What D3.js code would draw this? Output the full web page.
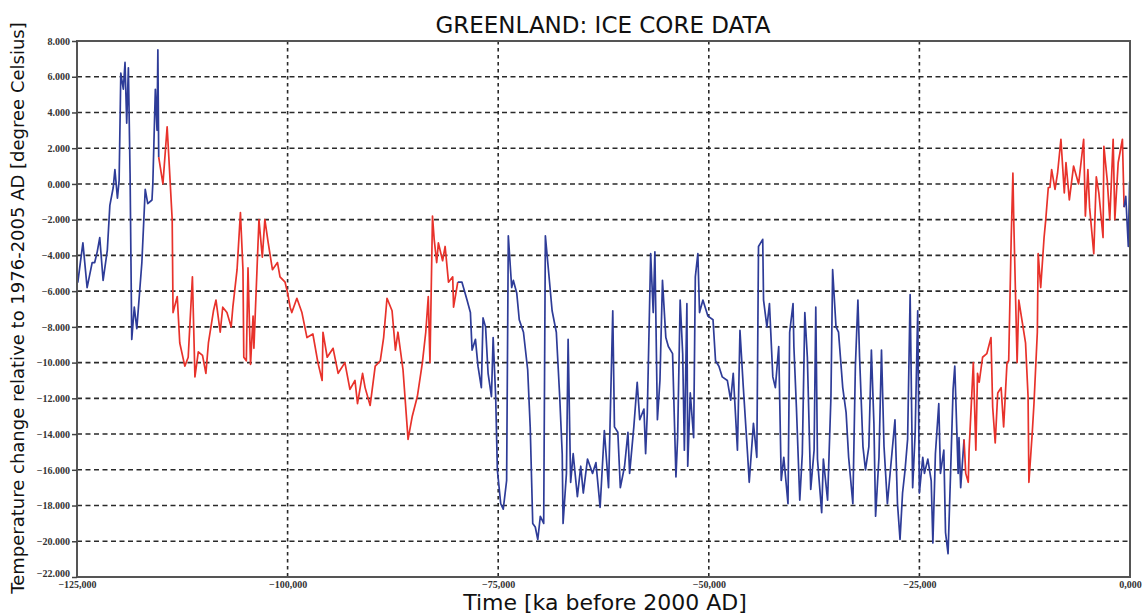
<!DOCTYPE html>
<html>
<head>
<meta charset="utf-8">
<script src="https://cdn.jsdelivr.net/npm/d3@7"></script>
<style>
  html, body { margin: 0; padding: 0; background: #ffffff; }
  svg { display: block; }
</style>
</head>
<body>
<svg id="chart" width="1146" height="614"></svg>
<script>
// Time in ka relative to 2000 AD
const timeKa = [
  -125.0,-124.9,-124.3,-123.8,-123.2,-122.9,-122.6,-122.3,-121.9,-121.4,-121.1,-120.7,-120.5,-120.2,-120.0,
  -119.8,-119.5,-119.3,-119.1,-118.9,-118.7,-118.5,-118.2,-117.9,-117.3,-116.9,-116.6,-116.1,-116.0,-115.7,
  -115.5,-115.4,-115.3,
  -114.8,-114.3,-114.1,-113.7,-113.6,-113.1,-112.8,-112.2,-111.8,-111.3,-111.0,-110.6,-110.1,-109.7,-109.4,
  -108.8,-108.5,-108.0,-107.7,-107.2,-106.7,-106.5,-106.0,-105.6,-105.3,-105.2,-104.9,-104.7,-104.4,-104.1,
  -104.0,-103.6,-103.4,-103.0,-102.7,-102.3,-101.8,-101.2,-100.9,-100.3,-100.0,-99.7,-99.5,-98.9,-98.3,
  -97.7,-97.0,-96.4,-95.9,-95.8,-95.3,-94.6,-94.0,-93.2,-92.6,-92.0,-91.7,-91.1,-90.8,-90.2,-89.6,-89.0,
  -88.6,-88.2,-87.6,-87.2,-86.9,-86.3,-85.7,-85.2,-84.6,-84.0,-83.6,-83.3,-83.1,-82.8,-82.6,-82.3,-82.1,
  -81.6,-81.3,-80.9,-80.4,-80.3,-79.8,
  -79.3,-78.7,-78.3,-78.1,-77.7,-77.4,-77.0,-76.8,-76.5,-76.2,-75.8,-75.6,-75.3,-75.1,-74.7,-74.4,-74.0,
  -73.8,-73.4,-73.2,-72.8,-72.5,-72.0,-71.5,-71.2,-70.9,-70.6,-70.3,-70.0,-69.6,-69.4,-69.0,-68.6,-68.1,
  -67.7,-67.4,-67.3,-66.9,-66.7,-66.4,-66.1,-65.6,-65.2,-64.9,-64.4,-63.8,-63.4,-62.9,-62.4,-61.9,-61.4,
  -61.2,-60.8,-60.5,-60.0,-59.6,-59.4,-58.9,-58.5,-58.2,-57.7,-57.5,-57.3,-56.9,-56.6,-56.4,-56.1,-55.8,
  -55.5,-55.1,-54.8,-54.3,-53.9,-53.7,-53.4,-53.1,-52.9,-52.6,-52.5,-52.2,-51.8,-51.6,-51.3,-51.1,-50.7,
  -50.1,-49.5,-49.2,-48.8,-48.4,-47.8,-47.4,-47.1,-46.6,-46.3,-45.9,-45.4,-45.2,-44.7,-44.3,-44.1,-43.6,
  -43.5,-43.1,-42.8,-42.4,-42.1,-41.7,-41.4,-41.1,-40.6,-40.4,-40.0,-39.9,-39.6,-39.2,-38.9,-38.6,-38.3,
  -37.9,-37.5,-37.3,-37.1,-36.6,-36.4,-35.9,-35.5,-35.3,-34.9,-34.6,-34.1,-33.7,-33.4,-32.9,-32.6,-32.3,
  -32.1,-31.7,-31.4,-31.0,-30.7,-30.4,-30.2,-29.8,-29.5,-29.2,-28.8,-28.4,-27.9,-27.6,-27.3,-27.0,-26.7,
  -26.4,-26.1,-25.8,-25.5,-25.2,-25.0,-24.6,-24.4,-24.0,-23.6,-23.4,-23.1,-22.7,-22.5,-22.1,-21.9,-21.6,
  -21.3,-21.0,-20.8,-20.4,-20.3,-20.1,-19.7,
  -19.5,-19.2,-19.1,-18.6,-18.3,-18.1,-17.9,-17.5,-17.0,-16.5,-16.3,-16.0,-15.7,-15.3,-15.0,-14.6,-14.4,
  -14.1,-13.9,-13.8,-13.4,-13.2,-12.7,-12.4,-12.1,-12.0,-11.6,-11.4,-11.0,-10.9,-10.6,-10.2,-10.0,-9.7,
  -9.5,-9.3,-8.9,-8.6,-8.2,-7.8,-7.6,-7.2,-6.7,-6.1,-5.5,-5.3,-5.0,-4.8,-4.3,-4.0,-3.7,-3.2,-3.1,-2.7,
  -2.4,-2.0,-1.8,-1.4,-0.9,-0.7,
  -0.5,-0.2,-0.05,0.0
];

// Temperature change relative to 1976-2005 AD, degree Celsius
const tempC = [
  -5.1,-5.5,-3.3,-5.8,-4.4,-4.4,-3.8,-3.0,-5.4,-3.7,-1.2,-0.2,0.8,-0.8,0.2,
  6.2,5.3,6.8,3.4,6.5,0.6,-8.7,-6.9,-8.1,-4.4,-0.3,-1.1,-0.9,0.0,5.3,
  3.0,7.5,1.5,
  0.0,3.2,1.5,-2.0,-7.2,-6.3,-8.9,-10.2,-9.7,-5.2,-10.8,-9.4,-9.6,-10.6,-8.9,
  -7.1,-6.5,-8.3,-6.9,-7.2,-8.0,-6.9,-4.8,-1.6,-4.8,-9.7,-9.9,-4.7,-10.1,-7.4,
  -9.2,-4.4,-2.0,-4.1,-2.0,-3.3,-4.8,-4.4,-5.2,-5.5,-6.1,-6.9,-7.2,-6.4,-7.2,
  -8.6,-8.4,-10.0,-11.0,-8.3,-9.7,-9.2,-10.6,-10.0,-11.5,-11.0,-12.3,-10.6,-11.4,-12.4,-10.2,-9.9,
  -8.6,-6.4,-7.1,-9.3,-8.3,-10.4,-14.3,-13.0,-11.9,-10.0,-8.3,-6.3,-10.0,-1.8,-3.1,-4.4,-3.3,
  -4.3,-3.5,-5.5,-5.2,-6.9,-5.5,
  -5.5,-6.5,-7.2,-9.3,-8.7,-10.2,-11.4,-7.5,-8.0,-10.6,-11.9,-8.6,-11.9,-16.0,-17.9,-18.2,-16.6,
  -2.9,-5.8,-5.4,-6.1,-7.6,-8.3,-10.4,-13.6,-19.0,-19.2,-19.9,-18.6,-19.0,-2.9,-5.0,-7.1,-8.3,
  -11.9,-15.1,-19.0,-16.2,-8.7,-16.7,-15.1,-17.5,-15.8,-17.3,-15.4,-16.2,-15.6,-18.1,-13.8,-17.0,-7.1,
  -13.6,-13.9,-17.0,-15.8,-13.9,-16.2,-13.6,-11.1,-13.2,-12.6,-15.1,-12.8,-3.9,-7.2,-3.8,-13.2,-11.0,
  -5.4,-8.6,-9.1,-9.5,-16.4,-14.2,-6.5,-9.5,-14.9,-6.7,-15.8,-11.7,-14.2,-5.2,-3.9,-7.2,-6.5,
  -7.4,-7.6,-9.9,-10.2,-10.8,-11.0,-12.1,-10.6,-14.9,-8.2,-11.4,-15.1,-16.7,-13.4,-15.3,-3.5,-3.1,
  -6.5,-8.0,-6.7,-10.8,-11.4,-9.1,-16.6,-15.3,-17.9,-8.3,-6.7,-9.1,-12.5,-17.7,-15.1,-7.2,-9.7,
  -17.1,-14.9,-6.9,-15.4,-18.4,-15.4,-17.7,-11.9,-4.8,-8.0,-8.3,-11.4,-12.8,-15.3,-17.9,-10.2,-6.5,
  -9.7,-14.7,-16.0,-14.7,-9.3,-13.4,-18.6,-15.3,-9.3,-14.7,-17.9,-15.8,-13.2,-17.9,-19.9,-17.3,-16.0,
  -14.3,-6.2,-17.0,-13.9,-7.1,-17.3,-15.3,-16.2,-15.4,-16.6,-20.1,-15.1,-12.3,-16.2,-14.9,-19.5,-20.7,
  -16.2,-11.5,-10.2,-16.2,-14.2,-17.0,-14.3,
  -16.2,-16.7,-14.9,-10.0,-14.9,-10.6,-11.1,-9.7,-9.5,-8.6,-12.5,-14.5,-11.7,-11.4,-13.6,-10.0,-9.9,
  -3.0,0.6,-2.0,-10.0,-6.5,-8.0,-8.9,-11.9,-16.7,-13.9,-12.3,-8.3,-3.9,-5.8,-3.0,-2.0,-0.2,
  -0.2,0.8,-0.3,0.6,2.5,-0.5,1.2,-0.9,1.0,0.0,2.5,-1.8,0.8,-1.3,-3.9,0.4,-0.5,-3.0,2.1,0.2,
  -2.0,2.5,-2.0,1.2,2.5,-1.3,
  -0.7,-3.5,0.1,-1.6
];

// Warm intervals drawn in red (ka); the rest of the record is drawn in blue
const warmSpans = [[-115.2, -79.8], [-19.6, -0.7]];

const xTicks = [-125, -100, -75, -50, -25, 0];
const yTicks = [8, 6, 4, 2, 0, -2, -4, -6, -8, -10, -12, -14, -16, -18, -20, -22];

const titleText = "GREENLAND: ICE CORE DATA";
const xTitle = "Time [ka before 2000 AD]";
const yTitle = "Temperature change relative to 1976-2005 AD [degree Celsius]";

const colorCold = "#2e3c98";
const colorWarm = "#e8322b";

const svg = d3.select("#chart");
const plot = { left: 77, right: 1130, top: 41, bottom: 577 };

const x = d3.scaleLinear().domain([-125, 0]).range([plot.left, plot.right]);
const y = d3.scaleLinear().domain([-22, 8]).range([plot.bottom, plot.top]);

const fmtX = v => d3.format(",.3f")(v).replace(/,/g, "").replace(".", ",");
const fmtY = d3.format(".3f");

// grid
const grid = svg.append("g");
grid.selectAll("line.h")
  .data(yTicks.filter(v => v > -22 && v < 8))
  .join("line")
  .attr("x1", plot.left).attr("x2", plot.right)
  .attr("y1", d => y(d)).attr("y2", d => y(d))
  .attr("stroke", "#2a2a2a").attr("stroke-width", 1.6)
  .attr("stroke-dasharray", "5,3.5");
grid.selectAll("line.v")
  .data(xTicks.filter(v => v > -125 && v < 0))
  .join("line")
  .attr("x1", d => x(d)).attr("x2", d => x(d))
  .attr("y1", plot.top).attr("y2", plot.bottom)
  .attr("stroke", "#2a2a2a").attr("stroke-width", 1.6)
  .attr("stroke-dasharray", "3.5,3.5");

// record, split into cold (blue) and warm (red) stretches
const data = timeKa.map((t, i) => ({ t, v: tempC[i] }));
const isWarm = t => warmSpans.some(([a, b]) => t >= a && t <= b);
const segments = [];
data.forEach(d => {
  const warm = isWarm(d.t);
  const last = segments[segments.length - 1];
  if (!last || last.warm !== warm) {
    const seg = { warm, pts: [] };
    if (last) seg.pts.push(last.pts[last.pts.length - 1]);
    segments.push(seg);
  }
  segments[segments.length - 1].pts.push(d);
});
const line = d3.line().x(d => x(d.t)).y(d => y(d.v));
svg.append("g").selectAll("path")
  .data(segments)
  .join("path")
  .attr("d", d => line(d.pts))
  .attr("fill", "none")
  .attr("stroke", d => d.warm ? colorWarm : colorCold)
  .attr("stroke-width", 1.7)
  .attr("stroke-linejoin", "round");

// frame
svg.append("rect")
  .attr("x", plot.left).attr("y", plot.top)
  .attr("width", plot.right - plot.left).attr("height", plot.bottom - plot.top)
  .attr("fill", "none").attr("stroke", "#555").attr("stroke-width", 2);

// axes
const yAxis = d3.axisLeft(y).tickValues(yTicks).tickFormat(fmtY).tickSize(5).tickPadding(2);
const gy = svg.append("g").attr("transform", `translate(${plot.left},0)`).call(yAxis);
gy.select(".domain").remove();
gy.selectAll(".tick line").attr("stroke", "#444").attr("stroke-width", 1.5);
gy.selectAll("text")
  .attr("font-family", "'Liberation Serif', 'DejaVu Serif', serif")
  .attr("font-weight", "bold").attr("font-size", 10).attr("fill", "#333");
// lift the lowest label slightly so it clears the first time label
gy.selectAll(".tick").filter(d => d === -22).select("text").attr("dy", "-0.05em");

const xAxis = d3.axisBottom(x).tickValues(xTicks).tickFormat(fmtX).tickSize(0).tickPadding(4);
const gx = svg.append("g").attr("transform", `translate(0,${plot.bottom})`).call(xAxis);
gx.select(".domain").remove();
gx.selectAll("text")
  .attr("font-family", "'Liberation Serif', 'DejaVu Serif', serif")
  .attr("font-weight", "bold").attr("font-size", 10).attr("fill", "#333");

// titles
svg.append("text")
  .attr("x", 603).attr("y", 33)
  .attr("text-anchor", "middle")
  .attr("font-family", "'DejaVu Sans', sans-serif")
  .attr("font-size", 23).attr("fill", "#111")
  .text(titleText);

svg.append("text")
  .attr("x", 605).attr("y", 610)
  .attr("text-anchor", "middle")
  .attr("font-family", "'DejaVu Sans', sans-serif")
  .attr("font-size", 22).attr("fill", "#111")
  .text(xTitle);

svg.append("text")
  .attr("transform", "translate(24,308) rotate(-90)")
  .attr("text-anchor", "middle")
  .attr("font-family", "'DejaVu Sans', sans-serif")
  .attr("font-size", 18).attr("fill", "#111")
  .text(yTitle);
</script>
</body>
</html>
